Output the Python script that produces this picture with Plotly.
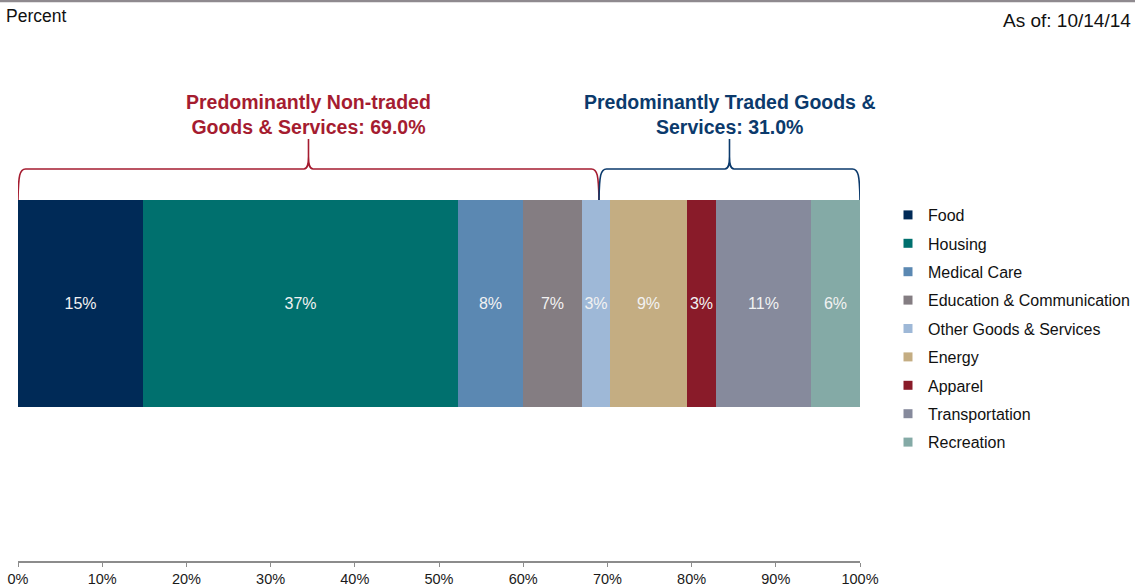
import plotly.graph_objects as go

# CPI basket weights (percent of total), left to right
categories = ["Food", "Housing", "Medical Care", "Education & Communication",
              "Other Goods & Services", "Energy", "Apparel", "Transportation", "Recreation"]
weights = [14.9, 37.4, 7.7, 7.0, 3.3, 9.2, 3.4, 11.3, 5.8]
colors = ["#002a57", "#00706e", "#5b88b2", "#847d82", "#9eb8d7",
          "#c4ad82", "#891b29", "#868a9c", "#84aaa6"]

# Group totals shown by the braces
group_names = ["Predominantly Non-traded<br>Goods & Services: 69.0%",
               "Predominantly Traded Goods &<br>Services: 31.0%"]
group_shares = [69.0, 31.0]
group_colors = ["#a51c30", "#0b3a6c"]

tick_vals = list(range(0, 101, 10))
tick_text = [f"{v}%" for v in tick_vals]

FONT = "Arial, Liberation Sans, sans-serif"

# plot area in pixels: x 18..860, y 38..561
L, R, T, B = 18, 279, 38, 27
PW, PH = 1139 - L - R, 588 - T - B


def px_x(px):
    return (px - L) / PW


def px_y(py):
    return (588 - B - py) / PH


fig = go.Figure()
for name, w, c in zip(categories, weights, colors):
    fig.add_trace(go.Bar(
        x=[w], y=[0], orientation="h", width=1, name=name,
        marker=dict(color=c, line=dict(width=0)),
        text=[w], texttemplate="%{x:.0f}%", textposition="inside", textangle=0,
        insidetextanchor="middle", constraintext="none",
        insidetextfont=dict(family=FONT, size=16, color="#f2f2f2"),
        showlegend=False, hoverinfo="skip",
    ))
    # legend swatch
    fig.add_trace(go.Scatter(
        x=[None], y=[None], mode="markers", name=name, legendgroup=name,
        marker=dict(symbol="square", size=9, color=c),
    ))

# Braces over each group
y_top, y_flat, y_tip = 0.5, 0.65, 0.795
start = 0.0
for label, share, col in zip(group_names, group_shares, group_colors):
    a, b = start, start + share
    m = (a + b) / 2
    path = (
        f"M {a},{y_top} C {a+0.05},{y_flat-0.03} {a+0.2},{y_flat} {a+0.9},{y_flat} "
        f"L {m-0.55},{y_flat} C {m-0.1},{y_flat} {m},{y_flat+0.02} {m},{y_flat+0.06} "
        f"L {m},{y_tip} L {m},{y_flat+0.06} C {m},{y_flat+0.02} {m+0.1},{y_flat} {m+0.55},{y_flat} "
        f"L {b-0.9},{y_flat} C {b-0.2},{y_flat} {b-0.05},{y_flat-0.03} {b},{y_top}"
    )
    fig.add_shape(type="path", path=path, xref="x", yref="y",
                  line=dict(color=col, width=1.6))
    fig.add_annotation(x=m, y=0.915, xref="x", yref="y", text=label, showarrow=False,
                       xanchor="center", yanchor="middle", align="center",
                       font=dict(family=FONT, size=19.5, color=col, weight="bold"))
    start = b

# Header rule and labels
fig.add_shape(type="line", xref="paper", yref="paper",
              x0=px_x(0), x1=px_x(1135), y0=px_y(1), y1=px_y(1),
              line=dict(color="#8f8a8f", width=2.5))
fig.add_annotation(text="Percent", xref="paper", yref="paper", x=px_x(4), y=px_y(4),
                   xanchor="left", yanchor="top", showarrow=False,
                   font=dict(family=FONT, size=17.5, color="#111111"))
fig.add_annotation(text="As of: 10/14/14", xref="paper", yref="paper", x=px_x(1133), y=px_y(8),
                   xanchor="right", yanchor="top", showarrow=False,
                   font=dict(family=FONT, size=19, color="#111111"))

fig.update_layout(
    width=1139, height=588,
    margin=dict(l=L, r=R, t=T, b=B, autoexpand=False),
    paper_bgcolor="white", plot_bgcolor="white",
    barmode="stack", bargap=0,
    uniformtext=dict(minsize=16, mode="show"),
    font=dict(family=FONT, color="#111111"),
    xaxis=dict(range=[0, 100], tickvals=tick_vals, ticktext=tick_text,
               showgrid=False, zeroline=False, showline=True, linecolor="#8c8c8c",
               linewidth=1.5, ticks="outside", ticklen=4, tickcolor="#8c8c8c",
               tickfont=dict(family=FONT, size=14.5, color="#1a1a1a"), fixedrange=True),
    # bar spans pixel rows 200..407
    yaxis=dict(range=[-(588 - B - 303.5) / 207, (303.5 - T) / 207],
               visible=False, fixedrange=True),
    legend=dict(x=px_x(888), xanchor="left", y=px_y(198), yanchor="top",
                font=dict(family=FONT, size=16, color="#111111"),
                tracegroupgap=4.6, itemwidth=30, bgcolor="rgba(0,0,0,0)"),
)

fig.write_html("out.html")
